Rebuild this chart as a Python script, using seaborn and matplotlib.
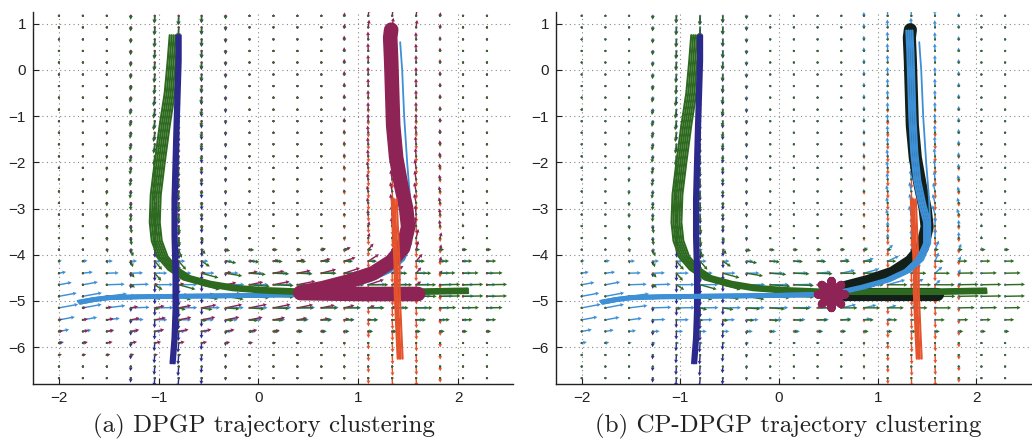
import numpy as np
import pandas as pd
import matplotlib
matplotlib.use("Agg")
import matplotlib.pyplot as plt
import seaborn as sns

# ---------------- data ----------------
x_cols = [-2.0, -1.76, -1.52, -1.28, -1.04, -0.80, -0.57, -0.33, -0.09, 0.15,
          0.39, 0.63, 0.86, 1.10, 1.34, 1.58, 1.82, 2.05, 2.29]
y_rows = [1.17, 0.92, 0.66, 0.41, 0.16, -0.10, -0.35, -0.60, -0.86, -1.11, -1.36,
          -1.61, -1.87, -2.12, -2.37, -2.63, -2.88, -3.13, -3.38, -3.64, -3.89,
          -4.14, -4.40, -4.65, -4.90, -5.15, -5.41, -5.66, -5.91, -6.17, -6.42, -6.67]

navy_x = [-0.80, -0.80, -0.81, -0.82, -0.83, -0.84, -0.84, -0.83, -0.83, -0.84, -0.86]
navy_y = [0.75, 0.2, -0.5, -1.2, -2.0, -2.8, -3.6, -4.4, -5.2, -5.8, -6.35]
navy_offsets = [-0.022, -0.008, 0.006, 0.02]

green_x = [-0.84, -0.86, -0.89, -0.94, -0.99, -1.03, -1.04, -1.02, -0.96, -0.86, -0.72,
           -0.50, -0.25, 0.05, 0.40, 0.80, 1.20, 1.60, 2.10]
green_y = [0.75, 0.2, -0.5, -1.2, -2.0, -2.7, -3.3, -3.7, -4.05, -4.3, -4.5,
           -4.63, -4.72, -4.77, -4.80, -4.80, -4.80, -4.80, -4.78]
green_offsets = [-0.05, -0.03, -0.01, 0.01, 0.03, 0.05]

lb_x = [-1.80, -1.65, -1.50, -1.20, -0.80, -0.40, 0.00, 0.40, 0.60, 0.85, 1.10, 1.30,
        1.43, 1.50, 1.50, 1.45, 1.40, 1.37, 1.35, 1.34, 1.33, 1.32]
lb_y = [-5.03, -4.97, -4.93, -4.91, -4.90, -4.89, -4.88, -4.86, -4.82, -4.70, -4.55,
        -4.35, -4.10, -3.75, -3.30, -2.90, -2.40, -1.80, -1.00, -0.30, 0.40, 0.85]
lb2_x = [-1.80, -1.65, -1.50, -1.20, -0.80, -0.40, 0.00, 0.40, 0.80, 1.20, 1.60]
lb2_y = [-5.03, -4.97, -4.93, -4.91, -4.90, -4.89, -4.88, -4.86, -4.85, -4.85, -4.85]
lb_offsets = [-0.03, -0.01, 0.01, 0.03]
lb_stray_x = [1.25, 1.38, 1.48, 1.53, 1.52, 1.49, 1.46, 1.44, 1.42]
lb_stray_y = [-4.38, -4.12, -3.75, -3.30, -2.80, -2.00, -1.00, 0.00, 0.60]

red_x = [1.35, 1.36, 1.37, 1.38, 1.38, 1.39, 1.40, 1.41]
red_y = [-2.8, -3.3, -3.8, -4.3, -4.8, -5.3, -5.8, -6.25]
red_offsets = [-0.015, 0.0, 0.015, 0.035]

seg_up_x = [0.42, 0.65, 0.90, 1.15, 1.33, 1.45, 1.50, 1.48, 1.43, 1.38, 1.35, 1.34,
            1.33, 1.32, 1.33]
seg_up_y = [-4.82, -4.72, -4.58, -4.40, -4.15, -3.85, -3.40, -3.00, -2.50, -1.90,
            -1.20, -0.50, 0.20, 0.70, 0.87]
seg_right_x = [0.42, 1.0, 1.6]
seg_right_y = [-4.83, -4.85, -4.85]

star_x = [0.53]
star_y = [-4.85]

xticks = [-2, -1, 0, 1, 2]
yticks = [1, 0, -1, -2, -3, -4, -5, -6]
captions = ["(a) DPGP trajectory clustering", "(b) CP-DPGP trajectory clustering"]

C_NAVY = "#2b2a8c"
C_GREEN = "#2d6a1f"
C_LB = "#3d8fd6"
C_RED = "#e4532b"
C_MAROON = "#8e2455"
C_BLACK = "#122019"

# --------------- helpers ---------------
def densify(px, py, n=25):
    px = np.asarray(px, float); py = np.asarray(py, float)
    qx, qy, tx, ty = [], [], [], []
    for i in range(len(px) - 1):
        s = np.linspace(0, 1, n, endpoint=False)
        dx, dy = px[i + 1] - px[i], py[i + 1] - py[i]
        L = np.hypot(dx, dy)
        qx.append(px[i] + s * dx); qy.append(py[i] + s * dy)
        tx.append(np.full(n, dx / L)); ty.append(np.full(n, dy / L))
    return (np.concatenate(qx), np.concatenate(qy),
            np.concatenate(tx), np.concatenate(ty))


def flow_field(px, py):
    qx, qy, tx, ty = densify(px, py)
    GX, GY = np.meshgrid(np.asarray(x_cols), np.asarray(y_rows))
    dx = GX[..., None] - qx
    dy = GY[..., None] - qy
    d2 = (dx / 0.32) ** 2 + (dy / 0.45) ** 2
    idx = np.argmin(d2, axis=-1)
    ex = np.take_along_axis(dx, idx[..., None], -1)[..., 0]
    ey = np.take_along_axis(dy, idx[..., None], -1)[..., 0]
    ttx, tty = tx[idx], ty[idx]
    dpar = ex * ttx + ey * tty
    perp_x = ex - dpar * ttx
    perp_y = ey - dpar * tty
    w = np.exp(-0.5 * ((perp_x / 0.34) ** 2 + (perp_y / 0.5) ** 2) - 0.5 * (dpar / 1.5) ** 2)
    return GX, GY, 0.21 * w * ttx, 0.21 * w * tty


def bundle_df(px, py, offsets):
    px = np.asarray(px, float); py = np.asarray(py, float)
    gx, gy = np.gradient(px), np.gradient(py)
    L = np.hypot(gx, gy)
    nx, ny = -gy / L, gx / L
    rows = []
    for k, o in enumerate(offsets):
        for xx, yy in zip(px + o * nx, py + o * ny):
            rows.append((k, xx, yy))
    return pd.DataFrame(rows, columns=["member", "x", "y"])


def draw_quiver(ax, px, py, color):
    GX, GY, U, V = flow_field(px, py)
    ax.quiver(GX, GY, U, V, color=color, angles="xy", scale_units="xy", scale=1,
              width=0.0030, headwidth=2.8, headlength=2.6, headaxislength=2.3,
              minlength=1.6, zorder=1)


def draw_bundle(ax, px, py, offsets, color, lw=1.5, z=3):
    df = bundle_df(px, py, offsets)
    sns.lineplot(data=df, x="x", y="y", units="member", estimator=None, sort=False,
                 color=color, lw=lw, ax=ax, legend=False, zorder=z)


# --------------- figure ---------------
sns.set_style("white")
plt.rcParams["font.family"] = ["Liberation Sans", "DejaVu Sans"]

fig = plt.figure(figsize=(10.32, 4.41), dpi=100)
ax_a = fig.add_axes([0.032, 0.129, 0.465, 0.8435])
ax_b = fig.add_axes([0.5388, 0.129, 0.460, 0.8435])

lb_h_x, lb_h_y = lb_x[:8], lb_y[:8]

# panel (a)
for px, py, c in [(navy_x, navy_y, C_NAVY), (red_x, red_y, C_RED),
                  (lb_h_x, lb_h_y, C_LB), (seg_up_x, seg_up_y, C_MAROON),
                  (green_x, green_y, C_GREEN)]:
    draw_quiver(ax_a, px, py, c)
draw_bundle(ax_a, lb_x, lb_y, lb_offsets, C_LB, z=3)
draw_bundle(ax_a, lb2_x, lb2_y, lb_offsets, C_LB, z=3)
draw_bundle(ax_a, lb_stray_x, lb_stray_y, [0.0], C_LB, lw=1.3, z=3)
draw_bundle(ax_a, green_x, green_y, green_offsets, C_GREEN, z=4)
draw_bundle(ax_a, navy_x, navy_y, navy_offsets, C_NAVY, z=5)
for sx, sy in [(seg_up_x, seg_up_y), (seg_right_x, seg_right_y)]:
    ax_a.plot(sx, sy, color=C_MAROON, lw=10.5, solid_capstyle="round",
              solid_joinstyle="round", zorder=6)
draw_bundle(ax_a, red_x, red_y, red_offsets, C_RED, z=7)

# panel (b)
for px, py, c in [(navy_x, navy_y, C_NAVY), (red_x, red_y, C_RED),
                  (lb_x, lb_y, C_LB), (green_x, green_y, C_GREEN)]:
    draw_quiver(ax_b, px, py, c)
for sx, sy in [(seg_up_x, seg_up_y), (seg_right_x, seg_right_y)]:
    ax_b.plot([star_x[0]] + list(sx[1:]), [star_y[0]] + list(sy[1:]), color=C_BLACK,
              lw=9.5, solid_capstyle="round", solid_joinstyle="round", zorder=2.5)
draw_bundle(ax_b, green_x, green_y, green_offsets, C_GREEN, z=3)
draw_bundle(ax_b, navy_x, navy_y, navy_offsets, C_NAVY, z=4)
draw_bundle(ax_b, red_x, red_y, red_offsets, C_RED, z=4)
draw_bundle(ax_b, lb_x, lb_y, lb_offsets, C_LB, lw=1.6, z=6)
draw_bundle(ax_b, lb_stray_x, lb_stray_y, [0.0], C_LB, lw=1.3, z=6)
draw_bundle(ax_b, lb2_x[:8], lb2_y[:8], lb_offsets, C_LB, z=6)
sns.scatterplot(x=star_x, y=star_y, ax=ax_b, marker=(8, 2, 0), s=380,
                color=C_MAROON, linewidth=6, edgecolor=C_MAROON, zorder=8, legend=False)

for ax, cap in zip([ax_a, ax_b], captions):
    ax.set_xlim(-2.26, 2.55)
    ax.set_ylim(-6.8, 1.25)
    ax.set_xticks(xticks)
    ax.set_yticks(yticks)
    ax.set_xticklabels([f"{t}".replace("-", "\u2212") for t in xticks])
    ax.set_yticklabels([f"{t}".replace("-", "\u2212") for t in yticks])
    ax.set_xlabel(""); ax.set_ylabel("")
    ax.grid(True, ls=(0, (1, 3)), color="#888888", lw=0.8)
    ax.tick_params(direction="in", length=4, width=0.8, labelsize=11, colors="#222222",
                   top=False, right=False, left=True, bottom=True, pad=5)
    for s in ["top", "right"]:
        ax.spines[s].set_visible(False)
    for s in ["left", "bottom"]:
        ax.spines[s].set_color("#222222")
        ax.spines[s].set_linewidth(1.0)
    ax.set_facecolor("white")

fig.text(0.256, 0.004, captions[0], ha="center", va="bottom", fontsize=18,
         family=["cmr10", "DejaVu Serif"], color="#222222")
fig.text(0.764, 0.004, captions[1], ha="center", va="bottom", fontsize=18,
         family=["cmr10", "DejaVu Serif"], color="#222222")

fig.savefig("out.png", dpi=100, facecolor="white")
